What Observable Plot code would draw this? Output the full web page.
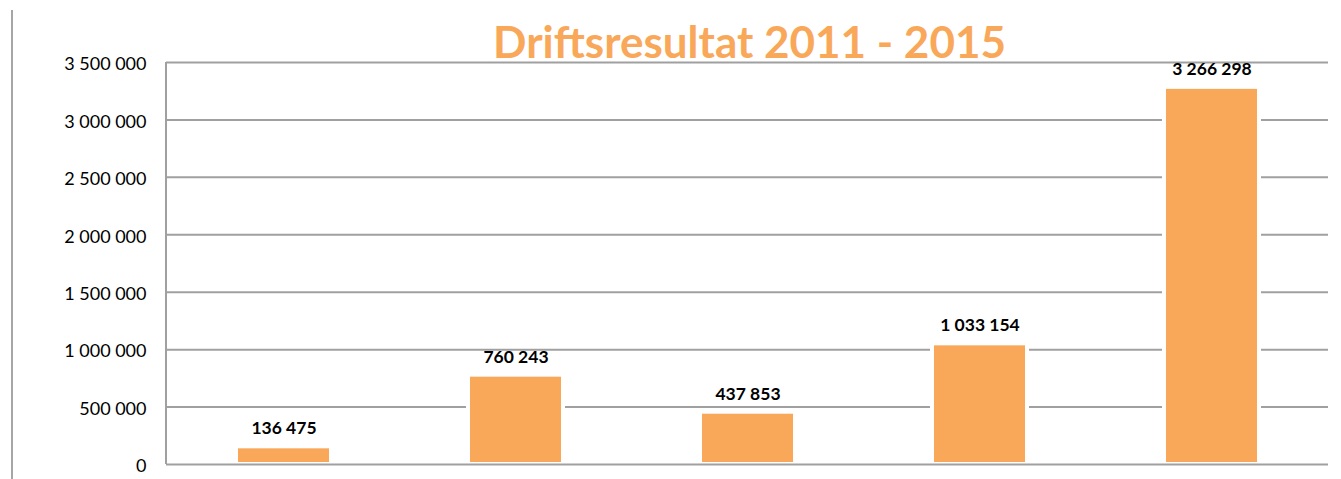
<!DOCTYPE html>
<html>
<head>
<meta charset="utf-8">
<script src="https://cdn.jsdelivr.net/npm/d3@7"></script>
<script src="https://cdn.jsdelivr.net/npm/@observablehq/plot@0.6"></script>
<style>
  html, body { margin: 0; padding: 0; background: #fff; }
  #wrap { position: relative; width: 1341px; height: 479px; }
  #leftline { position: absolute; left: 11px; top: 10px; width: 2px; height: 469px; background: #a6a6a6; }
</style>
</head>
<body>
<div id="wrap"><div id="leftline"></div></div>
<script>
const title = "Driftsresultat 2011 - 2015";
const years = ["2011", "2012", "2013", "2014", "2015"];
const values = [136475, 760243, 437853, 1033154, 3266298];
const yTicks = [0, 500000, 1000000, 1500000, 2000000, 2500000, 3000000, 3500000];

const data = years.map((y, i) => ({year: y, value: values[i]}));
const fmt = d3.formatLocale({thousands: " ", grouping: [3], decimal: ",", currency: ["", ""]}).format(",");

const font = "Lato, 'Open Sans', sans-serif";
const orange = "#f9a85a";
const grid = "#a0a0a0";

const axisLine = (index, scales, values, dims) => {
  const g = d3.create("svg:g");
  g.append("line")
    .attr("x1", dims.marginLeft).attr("x2", dims.marginLeft)
    .attr("y1", dims.marginTop).attr("y2", dims.height - dims.marginBottom)
    .attr("stroke", grid).attr("stroke-width", 2);
  return g.node();
};

const chart = Plot.plot({
  width: 1341,
  height: 479,
  marginLeft: 166,
  marginRight: 13,
  marginTop: 62,
  marginBottom: 15,
  style: {fontFamily: font, fontSize: "16px", color: "#000", background: "transparent"},
  x: {domain: years, axis: null, paddingInner: 0.609, paddingOuter: 0.3},
  y: {domain: [0, 3500000], axis: null},
  marks: [
    Plot.ruleY(yTicks.filter(d => d > 0), {stroke: grid, strokeWidth: 2}),
    Plot.axisY({ticks: yTicks, tickFormat: fmt, tickSize: 0, tickPadding: 20, fontSize: 18, fill: "#000", label: null, dy: 2}),
    Plot.barY(data, {x: "year", y: "value", fill: orange, stroke: "#fff", strokeWidth: 4, insetLeft: -2, insetRight: -2, insetTop: -2}),
    Plot.ruleY([0], {stroke: grid, strokeWidth: 2}),
    axisLine,
    Plot.text(data, {x: "year", y: "value", text: d => fmt(d.value), dy: -20, fontWeight: "bold", fontSize: 17.5, fill: "#000"}),
    Plot.text([title], {frameAnchor: "top", dx: 2, dy: -36, text: d => d, fontSize: 44, fontWeight: "bold", fill: orange})
  ]
});
document.getElementById("wrap").appendChild(chart);
</script>
</body>
</html>
